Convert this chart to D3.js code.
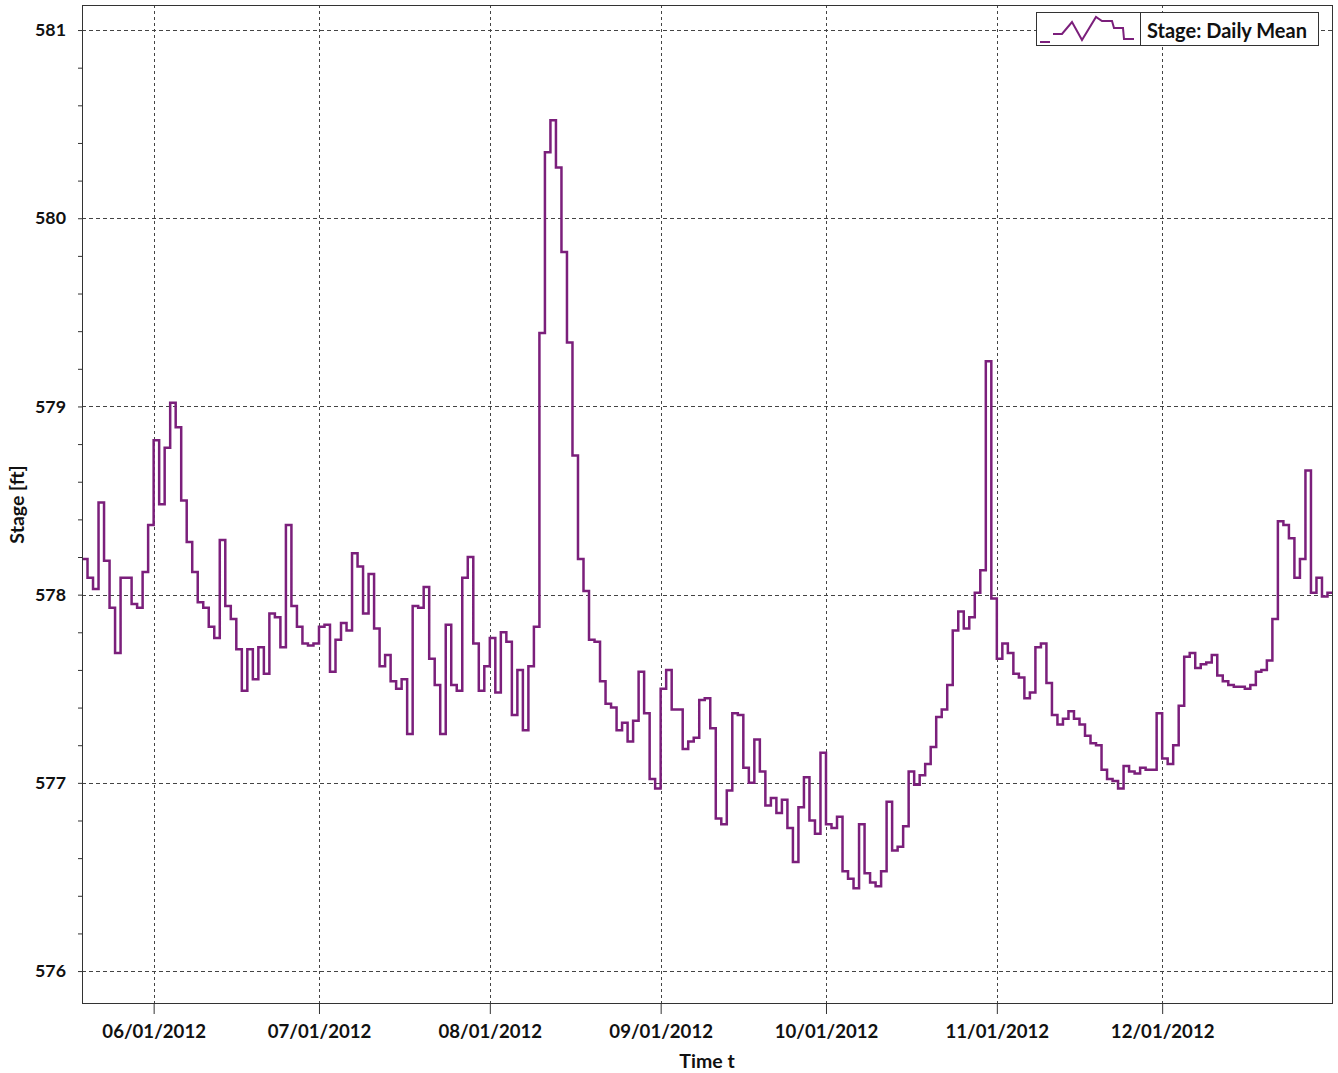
<!DOCTYPE html>
<html>
<head>
<meta charset="utf-8">
<script src="https://cdn.jsdelivr.net/npm/d3@7"></script>
<style>
  body { margin: 0; background: #fff; }
  svg { display: block; font-family: Lato, "Open Sans", sans-serif; }
</style>
</head>
<body>
<div id="chart"></div>
<script>
// daily mean stage, one value per day starting 05/19/2012
const firstDay = "2012-05-19";
const endDay = "2013-01-01";
const stageValues = [
  578.19, 578.09, 578.03, 578.49, 578.18, 577.93, 577.69, 578.09, 578.09, 577.95,
  577.93, 578.12, 578.37, 578.82, 578.48, 578.78, 579.02, 578.89, 578.50, 578.28,
  578.12, 577.96, 577.93, 577.83, 577.77, 578.29, 577.94, 577.87, 577.71, 577.49,
  577.71, 577.55, 577.72, 577.58, 577.90, 577.88, 577.72, 578.37, 577.94, 577.83,
  577.74, 577.73, 577.74, 577.83, 577.84, 577.59, 577.76, 577.85, 577.81, 578.22,
  578.15, 577.90, 578.11, 577.82, 577.62, 577.68, 577.54, 577.50, 577.55, 577.26,
  577.94, 577.93, 578.04, 577.66, 577.52, 577.26, 577.84, 577.52, 577.49, 578.09,
  578.20, 577.74, 577.49, 577.62, 577.77, 577.48, 577.80, 577.75, 577.36, 577.60,
  577.28, 577.62, 577.83, 579.39, 580.35, 580.52, 580.27, 579.82, 579.34, 578.74,
  578.19, 578.02, 577.76, 577.75, 577.54, 577.42, 577.40, 577.28, 577.32, 577.22,
  577.33, 577.59, 577.37, 577.02, 576.97, 577.50, 577.60, 577.39, 577.39, 577.18,
  577.22, 577.24, 577.44, 577.45, 577.29, 576.81, 576.78, 576.96, 577.37, 577.36,
  577.08, 577.00, 577.23, 577.06, 576.88, 576.92, 576.84, 576.91, 576.76, 576.58,
  576.87, 577.03, 576.80, 576.73, 577.16, 576.78, 576.76, 576.82, 576.53, 576.49,
  576.44, 576.78, 576.52, 576.47, 576.45, 576.53, 576.90, 576.64, 576.66, 576.77,
  577.06, 576.99, 577.04, 577.10, 577.19, 577.35, 577.39, 577.52, 577.81, 577.91,
  577.82, 577.88, 578.01, 578.13, 579.24, 577.98, 577.66, 577.74, 577.69, 577.58,
  577.56, 577.45, 577.48, 577.72, 577.74, 577.53, 577.36, 577.31, 577.34, 577.38,
  577.34, 577.31, 577.25, 577.21, 577.20, 577.07, 577.02, 577.01, 576.97, 577.09,
  577.06, 577.05, 577.08, 577.07, 577.07, 577.37, 577.13, 577.10, 577.20, 577.41,
  577.67, 577.69, 577.61, 577.63, 577.64, 577.68, 577.57, 577.54, 577.52, 577.51,
  577.51, 577.50, 577.52, 577.59, 577.60, 577.65, 577.87, 578.39, 578.37, 578.30,
  578.09, 578.19, 578.66, 578.01, 578.09, 577.99, 578.01
];
const yTicks = [576, 577, 578, 579, 580, 581];
const xTickDays = ["2012-06-01", "2012-07-01", "2012-08-01", "2012-09-01",
                   "2012-10-01", "2012-11-01", "2012-12-01"];
const seriesName = "Stage: Daily Mean";
const yTitle = "Stage [ft]";
const xTitle = "Time t";

const W = 1338, H = 1073;
const margin = { left: 82, right: 5, top: 5, bottom: 69 };
const lineColor = "#7b1f7b";

const parseDay = d3.timeParse("%Y-%m-%d");
const start = parseDay(firstDay);
const data = stageValues.map((v, i) => ({ date: d3.timeDay.offset(start, i), value: v }));
// extra point so the last day gets its full step
data.push({ date: parseDay(endDay), value: stageValues[stageValues.length - 1] });

const svg = d3.select("#chart").append("svg")
  .attr("width", W).attr("height", H);

const x = d3.scaleTime()
  .domain([start, parseDay(endDay)])
  .range([margin.left, W - margin.right]);

const y = d3.scaleLinear()
  .domain([575.825, 581.133])
  .range([H - margin.bottom, margin.top]);

const plotBottom = H - margin.bottom;

// grid
svg.append("g").selectAll("line.hgrid")
  .data(yTicks).join("line")
  .attr("x1", margin.left).attr("x2", W - margin.right)
  .attr("y1", d => Math.round(y(d)) + 0.5).attr("y2", d => Math.round(y(d)) + 0.5)
  .attr("stroke", "#444").attr("stroke-width", 1)
  .attr("stroke-dasharray", "4,3");

svg.append("g").selectAll("line.vgrid")
  .data(xTickDays.map(parseDay)).join("line")
  .attr("x1", d => Math.round(x(d)) + 0.5).attr("x2", d => Math.round(x(d)) + 0.5)
  .attr("y1", margin.top).attr("y2", plotBottom)
  .attr("stroke", "#444").attr("stroke-width", 1)
  .attr("stroke-dasharray", "3,3");

// axes
const yAxis = d3.axisLeft(y)
  .tickValues(d3.range(576, 581.2, 0.2))
  .tickSize(4).tickFormat("");
svg.append("g")
  .attr("transform", `translate(${margin.left},0)`)
  .call(yAxis)
  .call(g => g.select(".domain").remove())
  .call(g => g.selectAll(".tick line").attr("stroke", "#333"));

svg.append("g").selectAll("text.ylab")
  .data(yTicks).join("text")
  .attr("x", 66).attr("y", d => y(d))
  .attr("dy", "0.35em")
  .attr("text-anchor", "end")
  .attr("font-size", 17.8).attr("font-weight", "bold")
  .attr("fill", "#111")
  .text(d => d);

const xAxis = d3.axisBottom(x)
  .tickValues(xTickDays.map(parseDay))
  .tickSize(10).tickPadding(11)
  .tickFormat(d3.timeFormat("%m/%d/%Y"));
svg.append("g")
  .attr("transform", `translate(0,${plotBottom})`)
  .call(xAxis)
  .call(g => g.select(".domain").remove())
  .call(g => g.selectAll(".tick line").attr("stroke", "#333"))
  .call(g => g.selectAll(".tick text")
    .attr("font-size", 18.6).attr("font-weight", "bold")
    .attr("font-family", "Lato, 'Open Sans', sans-serif")
    .attr("fill", "#111"));

// series
const line = d3.line()
  .x(d => x(d.date))
  .y(d => y(d.value))
  .curve(d3.curveStepAfter);

svg.append("path")
  .datum(data)
  .attr("fill", "none")
  .attr("stroke", lineColor)
  .attr("stroke-width", 2.5)
  .attr("stroke-linejoin", "miter")
  .attr("d", line);

// frame
svg.append("rect")
  .attr("x", margin.left + 0.5).attr("y", margin.top + 0.5)
  .attr("width", W - margin.right - margin.left - 1)
  .attr("height", plotBottom - margin.top - 1)
  .attr("fill", "none").attr("stroke", "#333").attr("stroke-width", 1);

// titles
svg.append("text")
  .attr("transform", `translate(24,${(margin.top + plotBottom) / 2}) rotate(-90)`)
  .attr("text-anchor", "middle")
  .attr("font-size", 19.5).attr("font-weight", "bold").attr("fill", "#111")
  .text(yTitle);

svg.append("text")
  .attr("x", 707).attr("y", 1068)
  .attr("text-anchor", "middle")
  .attr("font-size", 19.5).attr("font-weight", "bold").attr("fill", "#111")
  .text(xTitle);

// legend
const legend = svg.append("g");
legend.append("rect")
  .attr("x", 1036.5).attr("y", 12.5).attr("width", 282).attr("height", 33)
  .attr("fill", "#fff").attr("stroke", "#333");
legend.append("line")
  .attr("x1", 1140.5).attr("x2", 1140.5).attr("y1", 12.5).attr("y2", 45.5)
  .attr("stroke", "#333");

const iconPts = [[1040, 42], [1050, 42], null, [1053, 34], [1062, 34], [1072, 22],
  [1082, 40], [1096, 17], [1102, 21], [1112, 21], [1114, 28], [1123, 28],
  [1124, 39], [1134, 39]];
const iconLine = d3.line().defined(d => d !== null);
legend.append("path")
  .attr("d", iconLine(iconPts))
  .attr("fill", "none").attr("stroke", lineColor).attr("stroke-width", 2);

legend.append("text")
  .attr("x", 1147).attr("y", 37.5)
  .attr("font-size", 20).attr("font-weight", "bold").attr("fill", "#111")
  .text(seriesName);
</script>
</body>
</html>
